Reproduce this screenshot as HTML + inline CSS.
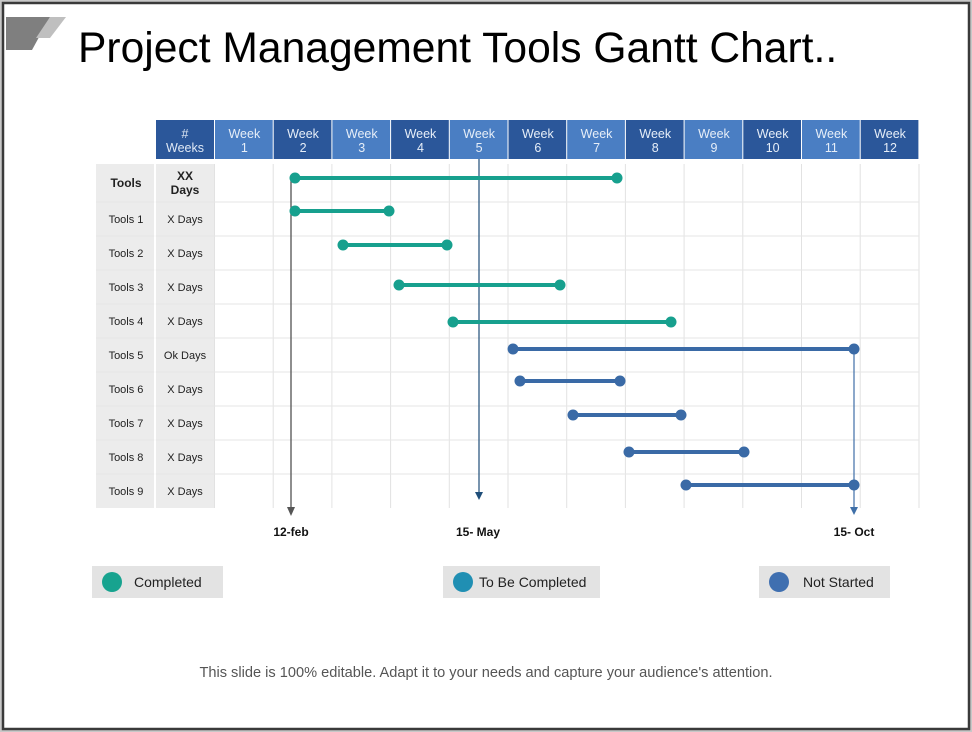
<!DOCTYPE html>
<html><head><meta charset="utf-8"><style>
html,body{margin:0;padding:0;background:#fff}
svg{display:block;font-family:"Liberation Sans",Arial,sans-serif}
</style></head><body>
<svg width="972" height="732" viewBox="0 0 972 732" xmlns="http://www.w3.org/2000/svg">
<rect x="0" y="0" width="972" height="732" fill="#c8c8c8"/>
<rect x="3" y="3" width="966" height="726" fill="#fff" stroke="#3a3a3a" stroke-width="2.5"/>
<polygon points="6,17 50,17 32,50 6,50" fill="#7f7f7f"/>
<polygon points="50,17 66,17 50,38 36,38" fill="#bfbfbf"/>
<text x="78" y="62" font-size="42.6" fill="#000">Project Management Tools Gantt Chart..</text>

<g font-size="12.5" fill="#fff" text-anchor="middle">
<rect x="156" y="120" width="58" height="39" fill="#2b579a"/>
<text x="185" y="138" fill="#dfe8f5">#</text><text x="185" y="152" fill="#dfe8f5">Weeks</text>
</g>
<g id="hdr" font-size="12.5" text-anchor="middle"></g>

<rect x="96" y="164" width="58" height="344" fill="#ececec"/>
<rect x="156" y="164" width="58" height="344" fill="#ececec"/>
<g stroke="#e2e2e2" stroke-width="1" id="grid"></g>
<g id="labels" font-size="11" fill="#222" text-anchor="middle"></g>

<line x1="291" y1="178" x2="291" y2="508" stroke="#444" stroke-width="1.2"/>
<polygon points="287,507 295,507 291,516" fill="#555"/>
<line x1="479" y1="159" x2="479" y2="493" stroke="#1f4e79" stroke-width="1.2"/>
<polygon points="475,492 483,492 479,500" fill="#1f4e79"/>
<line x1="854" y1="349" x2="854" y2="508" stroke="#3f6fa8" stroke-width="1.2"/>
<polygon points="850,507 858,507 854,515" fill="#3f6fa8"/>
<g id="bars"></g>

<g font-size="12" font-weight="bold" fill="#111" text-anchor="middle">
<text x="291" y="536">12-feb</text><text x="478" y="536">15- May</text><text x="854" y="536">15- Oct</text>
</g>

<rect x="92" y="566" width="131" height="32" fill="#e3e3e3"/>
<circle cx="112" cy="582" r="10" fill="#17a38f"/>
<text x="134" y="587" font-size="14" fill="#222">Completed</text>
<rect x="443" y="566" width="157" height="32" fill="#e3e3e3"/>
<circle cx="463" cy="582" r="10" fill="#208fb3"/>
<text x="479" y="587" font-size="14" fill="#222">To Be Completed</text>
<rect x="759" y="566" width="131" height="32" fill="#e3e3e3"/>
<circle cx="779" cy="582" r="10" fill="#3f6fb0"/>
<text x="803" y="587" font-size="14" fill="#222">Not Started</text>

<text x="486" y="677" font-size="14.6" fill="#555" text-anchor="middle">This slide is 100% editable.  Adapt it to your needs and capture your audience's attention.</text>
</svg>
<script>
var ns="http://www.w3.org/2000/svg";
function el(p,t,a,txt){var e=document.createElementNS(ns,t);for(var k in a)e.setAttribute(k,a[k]);if(txt)e.textContent=txt;document.getElementById(p).appendChild(e);}
var w=58.7;
for(var i=0;i<12;i++){var x=215+i*w;
 el("hdr","rect",{x:x,y:120,width:w-1,height:39,fill:(i%2==1?"#2b579a":"#4a7ec3")});
 el("hdr","text",{x:x+w/2,y:138,fill:"#e6eef8"},"Week");
 el("hdr","text",{x:x+w/2,y:152,fill:"#e6eef8"},String(i+1));
 el("grid","line",{x1:x-0.5,y1:164,x2:x-0.5,y2:508});
}
el("grid","line",{x1:919,y1:164,x2:919,y2:508});
var ys=[202,236,270,304,338,372,406,440,474];
ys.forEach(function(y){el("grid","line",{x1:96,y1:y,x2:919,y2:y,stroke:"#e6e6e6"});});
el("grid","line",{x1:155,y1:164,x2:155,y2:508,stroke:"#fff","stroke-width":1.5});
el("labels","text",{x:126,y:187,"font-weight":"bold","font-size":12},"Tools");
el("labels","text",{x:185,y:180,"font-weight":"bold","font-size":12},"XX");
el("labels","text",{x:185,y:194,"font-weight":"bold","font-size":12},"Days");
for(var r=0;r<9;r++){var cy=223+r*34;
 el("labels","text",{x:126,y:cy},"Tools "+(r+1));
 el("labels","text",{x:185,y:cy},r==4?"Ok Days":"X Days");}
var bars=[[178,295,617,0],[211,295,389,0],[245,343,447,0],[285,399,560,0],[322,453,671,0],[349,513,854,1],[381,520,620,1],[415,573,681,1],[452,629,744,1],[485,686,854,1]];
bars.forEach(function(b){var c=b[3]?"#3a6aa6":"#17a08e";
 el("bars","line",{x1:b[1],y1:b[0],x2:b[2],y2:b[0],stroke:c,"stroke-width":4});
 el("bars","circle",{cx:b[1],cy:b[0],r:5.5,fill:c});
 el("bars","circle",{cx:b[2],cy:b[0],r:5.5,fill:c});});
</script>
</body></html>
